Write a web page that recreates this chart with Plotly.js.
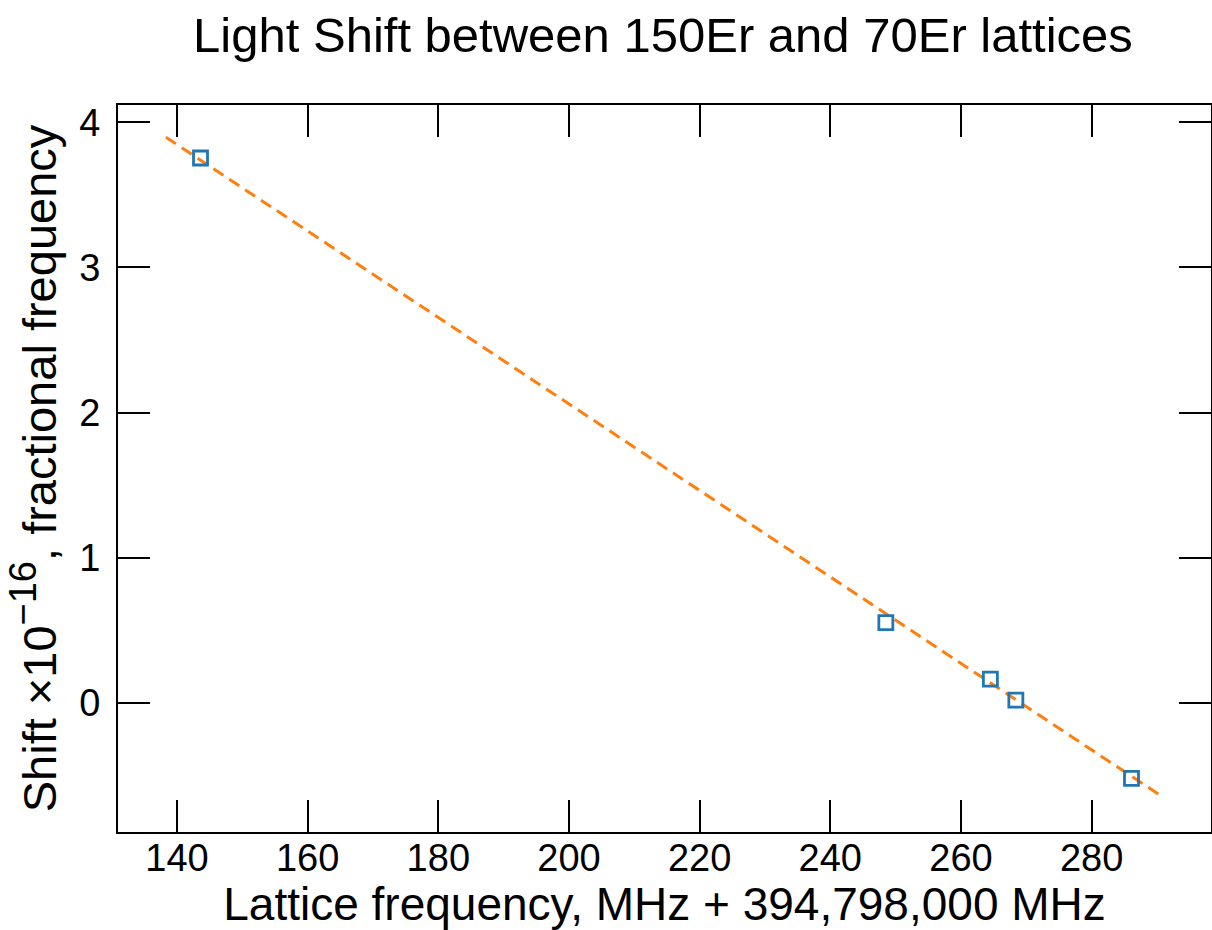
<!DOCTYPE html>
<html>
<head>
<meta charset="utf-8">
<script src="https://cdn.plot.ly/plotly-3.0.1.min.js"></script>
<style>html,body{margin:0;padding:0;background:#fff;}#chart{width:1212px;height:930px;}</style>
</head>
<body>
<div id="chart"></div>
<script>
// Measured points (lattice frequency offset in MHz, shift x1e-16)
var freqMHz = [143.6, 248.5, 264.5, 268.4, 286.1];
var shiftVals = [3.754, 0.552, 0.163, 0.019, -0.521];
// Linear fit line endpoints
var fitX = [138.3, 290.5];
var fitY = [3.897, -0.637];
var xTicks = [140, 160, 180, 200, 220, 240, 260, 280];
var yTicks = [0, 1, 2, 3, 4];

var FONT = 'Liberation Sans, Arial, Helvetica, sans-serif';

var traces = [
  {
    x: fitX, y: fitY, type: 'scatter', mode: 'lines',
    line: {color: '#ff7f0e', width: 3, dash: '12px,7px'},
    hoverinfo: 'skip', showlegend: false
  },
  {
    x: freqMHz, y: shiftVals, type: 'scatter', mode: 'markers',
    marker: {symbol: 'square-open', size: 14, color: '#1f77b4', line: {color: '#1f77b4', width: 2.8}},
    showlegend: false
  }
];

var axisCommon = {
  showgrid: false, zeroline: false,
  showline: true, linecolor: '#000', linewidth: 2, mirror: 'ticks',
  ticks: 'inside', ticklen: 32, tickwidth: 2, tickcolor: '#000',
  tickfont: {family: FONT, size: 38, color: '#000'}
};

var layout = {
  width: 1212, height: 930,
  paper_bgcolor: '#fff', plot_bgcolor: '#fff',
  margin: {l: 118, r: 1, t: 105, b: 98},
  title: {
    text: 'Light Shift between 150Er and 70Er lattices',
    font: {family: FONT, size: 49, color: '#000'},
    x: 0.547, xanchor: 'center', xref: 'container',
    y: 0.962, yanchor: 'middle', yref: 'container'
  },
  xaxis: Object.assign({}, axisCommon, {
    range: [130.97, 298.27],
    tickvals: xTicks, ticktext: xTicks.map(String),
    ticklabelstandoff: -9,
    title: {text: 'Lattice frequency, MHz + 394,798,000 MHz', font: {family: FONT, size: 46, color: '#000'}, standoff: 0}
  }),
  yaxis: Object.assign({}, axisCommon, {
    range: [-0.890, 4.119],
    tickvals: yTicks, ticktext: yTicks.map(String),
    ticklabelstandoff: 8,
    title: {text: 'Shift ×10<sup><span style="font-size:38px">−16</span></sup>, fractional frequency', font: {family: FONT, size: 47, color: '#000'}, standoff: 8}
  })
};

Plotly.newPlot('chart', traces, layout, {displayModeBar: false, staticPlot: true});
</script>
</body>
</html>
